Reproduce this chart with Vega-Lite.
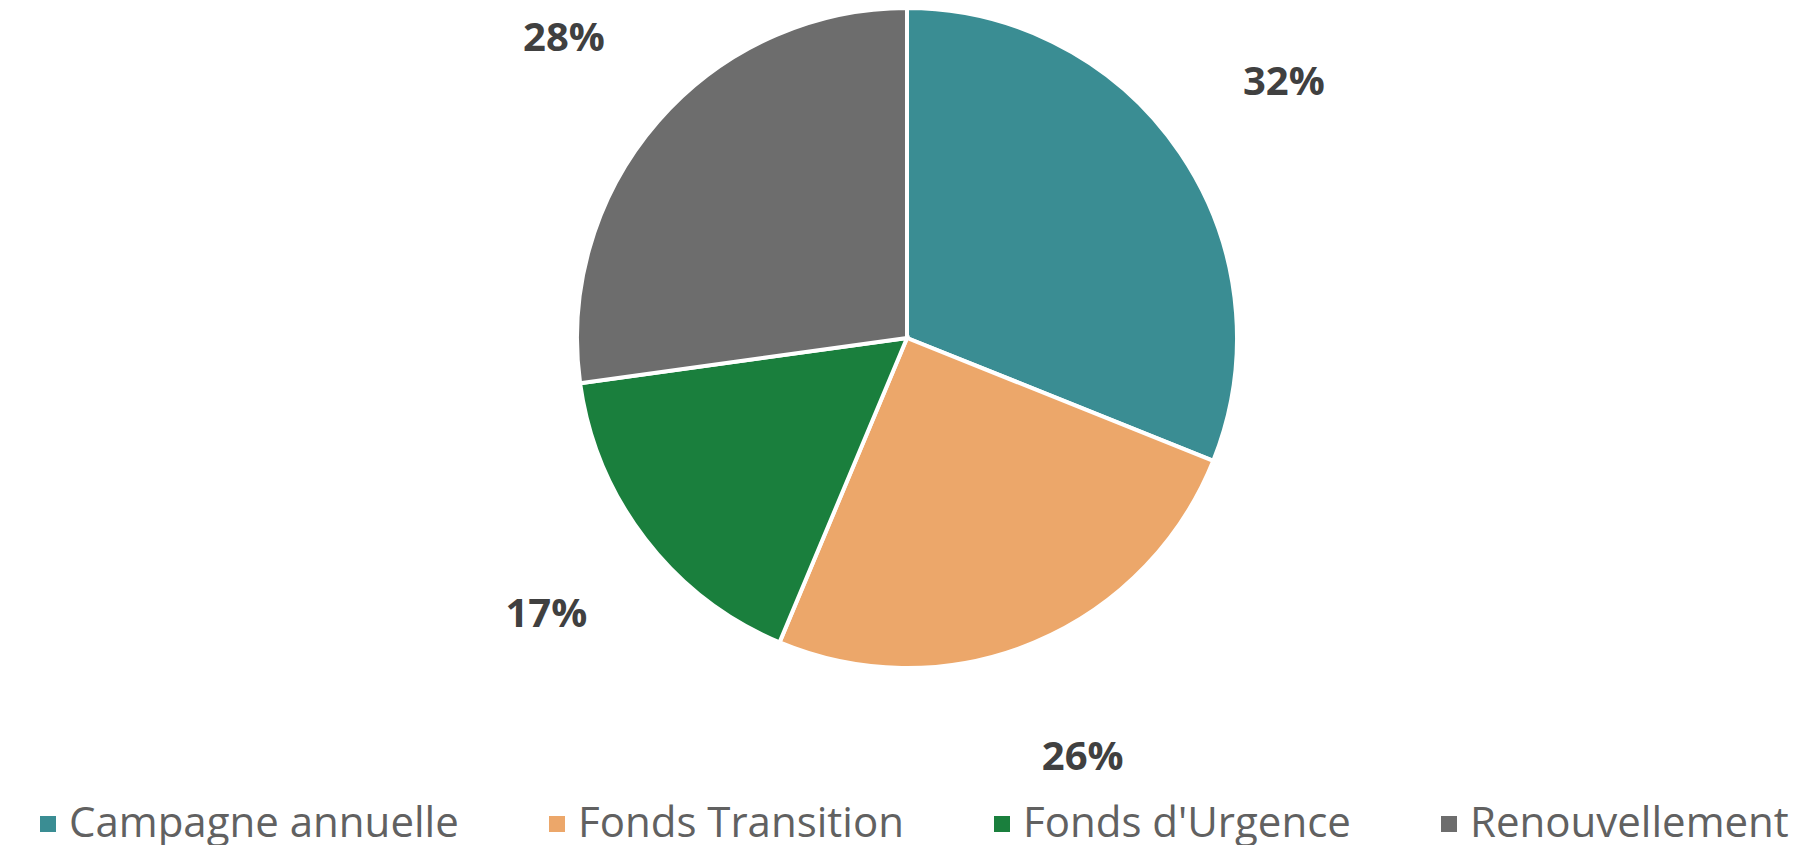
{
  "$schema": "https://vega.github.io/schema/vega-lite/v6.json",
  "width": 1814,
  "height": 676,
  "padding": 0,
  "background": "white",
  "config": {"view": {"stroke": null}, "font": "Open Sans"},
  "data": {
    "values": [
      {"category": "Campagne annuelle", "share": 0.32},
      {"category": "Fonds Transition", "share": 0.26},
      {"category": "Fonds d'Urgence", "share": 0.17},
      {"category": "Renouvellement", "share": 0.28}
    ]
  },
  "layer": [
    {
      "mark": {"type": "arc", "outerRadius": 330, "stroke": "white", "strokeWidth": 4},
      "encoding": {
        "theta": {"field": "share", "type": "quantitative", "stack": true},
        "order": {"field": "category", "type": "ordinal", "sort": "ascending"},
        "color": {
          "field": "category",
          "type": "nominal",
          "scale": {
            "domain": ["Campagne annuelle", "Fonds Transition", "Fonds d'Urgence", "Renouvellement"],
            "range": ["#3A8D93", "#ECA76A", "#1A7F3D", "#6D6D6D"]
          },
          "legend": {
            "title": null,
            "orient": "none",
            "legendX": 27,
            "legendY": 803,
            "direction": "horizontal",
            "columns": 4,
            "columnPadding": 77,
            "symbolType": "square",
            "symbolSize": 256,
            "symbolStrokeWidth": 0,
            "labelFont": "Open Sans",
            "labelFontSize": 42,
            "labelColor": "#616161",
            "labelOffset": 0,
            "labelLimit": 0,
            "padding": 0
          }
        }
      }
    },
    {
      "mark": {"type": "text", "radius": 455, "font": "Open Sans", "fontSize": 40, "fontWeight": "bold", "color": "#404040"},
      "encoding": {
        "theta": {"field": "share", "type": "quantitative", "stack": true},
        "order": {"field": "category", "type": "ordinal", "sort": "ascending"},
        "detail": {"field": "category", "type": "nominal"},
        "text": {"field": "share", "type": "quantitative", "format": ".0%"}
      }
    }
  ]
}
